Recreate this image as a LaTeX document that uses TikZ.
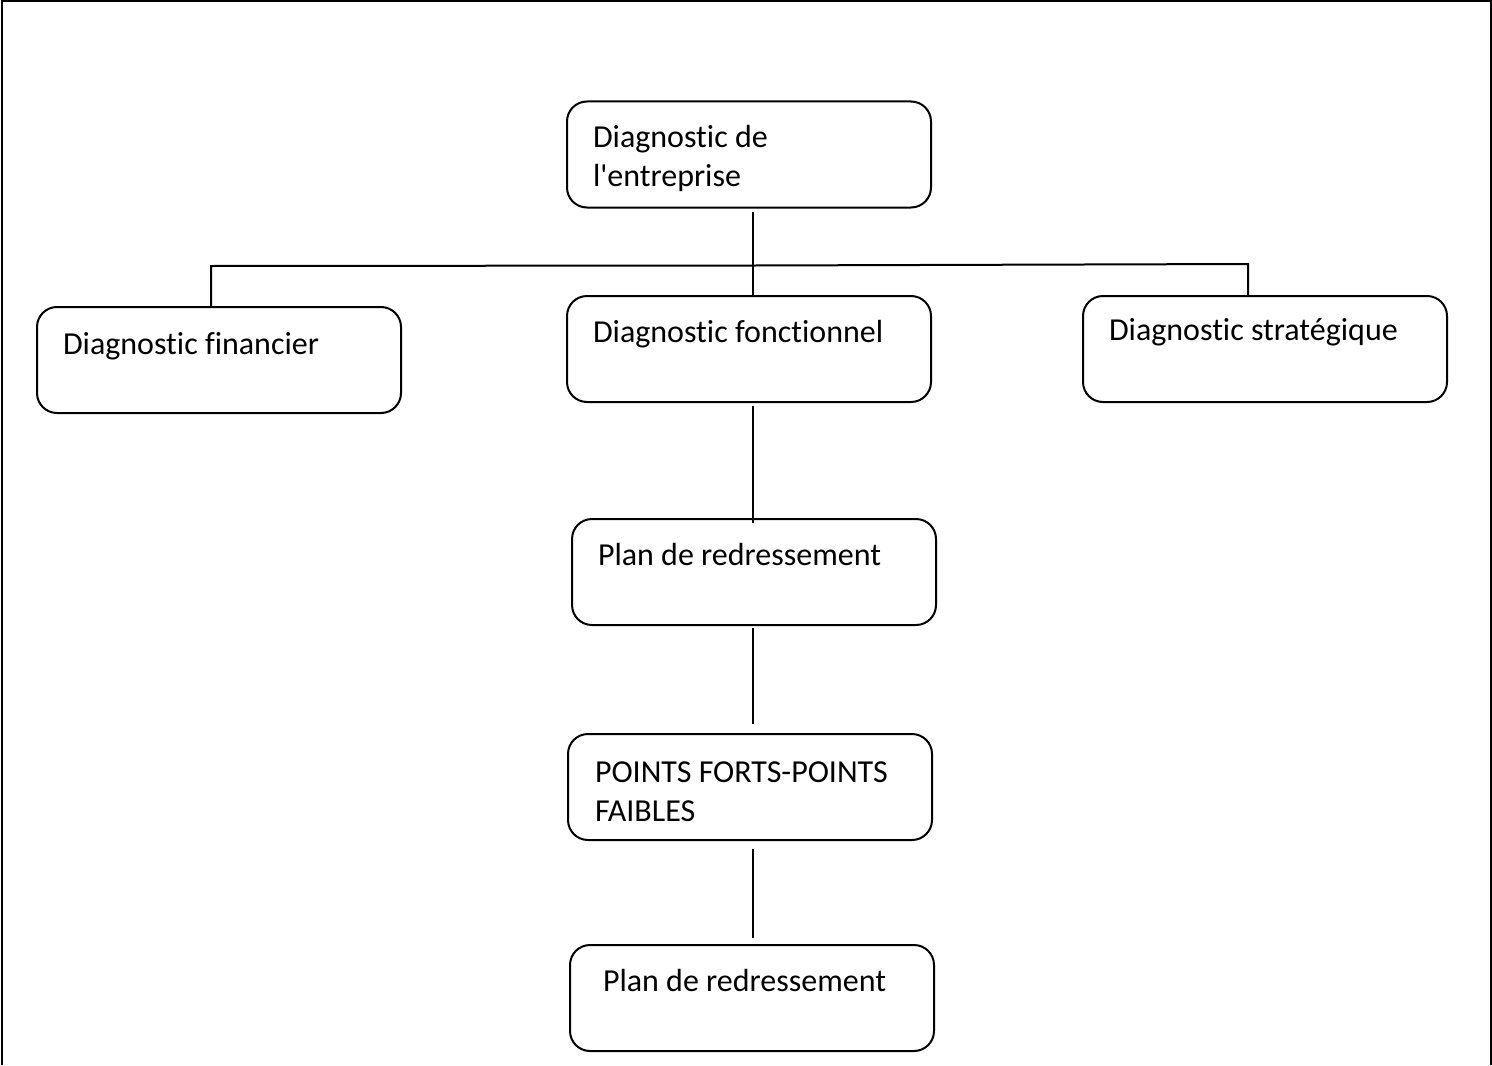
\documentclass[tikz,border=0pt]{standalone}
\usepackage{fontspec}
\setmainfont{Carlito}[Ligatures={TeXOff,CommonOff}]
\begin{document}
\begin{tikzpicture}[x=0.5pt,y=-0.5pt,
  box/.style={draw, line width=1pt, rounded corners=10pt, minimum width=182pt, minimum height=53pt, inner sep=0pt, outer sep=0pt},
  lbl/.style={anchor=base west, inner sep=0pt, outer sep=0pt, align=left, font=\fontsize{16pt}{19.5pt}\selectfont},
  link/.style={line width=1pt}]
\useasboundingbox (0,0) rectangle (1492,1065);
% page frame, open at the bottom
\draw[line width=1pt] (1.5,1065) -- (1.5,1.5) -- (1490.5,1.5) -- (1490.5,1065);

% boxes
\node[box] (top)   at (749,154.5) {};
\node[box] (fin)   at (219,360)   {};
\node[box] (fonc)  at (749,349)   {};
\node[box] (strat) at (1265,349)  {};
\node[box] (plan1) at (754,572)   {};
\node[box] (pts)   at (750,787)   {};
\node[box] (plan2) at (752,998)   {};

% labels (two-line labels are placed by the baseline of their last line)
\node[lbl] (ttop)   at (593,186)  {Diagnostic de\\l'entreprise};
\node[lbl] (tfin)   at (63,354)   {Diagnostic financier};
\node[lbl] (tfonc)  at (593,342)  {Diagnostic fonctionnel};
\node[lbl] (tstrat) at (1109,340) {Diagnostic stratégique};
\node[lbl] (tplan1) at (598,565)  {Plan de redressement};
\node[lbl] (tpts)   at (595,821)  {POINTS FORTS-POINTS\\FAIBLES};
\node[lbl] (tplan2) at (603,991)  {Plan de redressement};

% connectors
\coordinate (trunk) at (753,0);
\coordinate (busL) at (211,266);
\coordinate (busM) at (755,265.5);
\coordinate (busR) at (1248,264);

\draw[link] ([yshift=-2pt]top.south -| trunk) -- (trunk |- fonc.north);
\draw[link] (busL |- fin.north) -- (busL) -- (busM) -- (busR) -- (busR |- strat.north);
\draw[link] ([yshift=-2pt]fonc.south -| trunk) -- ([yshift=-2pt]plan1.north -| trunk);
\draw[link] ([yshift=-1.5pt]plan1.south -| trunk) -- ([yshift=5pt]pts.north -| trunk);
\draw[link] ([yshift=-4.5pt]pts.south -| trunk) -- ([yshift=3.5pt]plan2.north -| trunk);
\end{tikzpicture}
\end{document}
